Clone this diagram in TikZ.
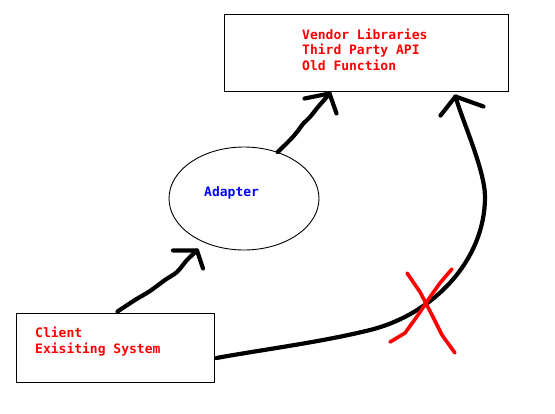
\documentclass[tikz,border=0pt]{standalone}
\usepackage{fontspec}
\setmonofont{DejaVu Sans Mono}
\usetikzlibrary{shapes.geometric,calc}
\tikzset{
  boxnode/.style={draw=black,line width=1pt,inner sep=0pt},
  ovalnode/.style={ellipse,draw=black,line width=0.9pt,inner sep=0pt},
  label text/.style={inner sep=0pt,anchor=west,align=left,font=\fontsize{13}{15.5}\selectfont\ttfamily\bfseries},
  stroke/.style={line width=4.2pt,line cap=round,line join=round,black},
  cross/.style={line width=3.6pt,line cap=round,line join=round,red}
}
\begin{document}
\begin{tikzpicture}[x=1pt,y=-1pt]
\useasboundingbox[fill=white] (0,0) rectangle (555,413);
% nodes
\node[boxnode,minimum width=284pt,minimum height=77pt] (vendor) at (366,52.5) {};
\node[label text,text=red] (vendortext) at (302,49.5) {Vendor Libraries\\Third Party API\\Old Function};
\node[boxnode,minimum width=198pt,minimum height=69pt] (client) at (115,347.5) {};
\node[label text,text=red] (clienttext) at (35,341.5) {Client\\Exisiting System};
\node[ovalnode,minimum width=150pt,minimum height=103pt] (adapter) at (244,198.5) {};
\node[label text,text=blue] (adaptertext) at (204,193) {Adapter};
% connector client -> adapter
\coordinate (a1s) at ($(client.north west)+(102,-1)$);
\coordinate (a1e) at ($(adapter.south)+(-47,0)$);
\draw[stroke] plot[smooth,tension=0.5] coordinates {(a1s) (135,300) (150,291) (165,280) (177,272) (187,260) (a1e)};
\draw[stroke] ($(a1e)+(-24,0)$) -- (a1e) -- ($(a1e)+(6,18)$);
% connector adapter -> vendor
\coordinate (a2s) at (adapter.54);
\coordinate (a2e) at ($(vendor.south west)+(106,2)$);
\draw[stroke] plot[smooth,tension=0.5] coordinates {(a2s) (290,140) (297,132) (303,124) (310,117) (318,107) (325,99) (a2e)};
\draw[stroke] ($(a2e)+(-25,5)$) -- (a2e) -- ($(a2e)+(7,20)$);
% connector client -> vendor (crossed out)
\coordinate (a3s) at ($(client.east)+(2,10.5)$);
\coordinate (a3e) at ($(vendor.south east)+(-53,5)$);
\draw[stroke] (a3s) .. controls (260,350) and (322,342) .. (370,330)
  .. controls (434,314) and (485,260) .. (485,197)
  .. controls (485,170) and (462,120) .. (a3e);
\draw[stroke] ($(a3e)+(-15,19)$) -- (a3e) -- ($(a3e)+(28,10)$);
% red cross
\draw[cross] (407,273) -- (420,292) -- (432,315) -- (442,335) -- (455,353);
\draw[cross] (452,269) -- (440,283) -- (430,297) -- (418,315) -- (405,333) -- (390,342);
\end{tikzpicture}
\end{document}
